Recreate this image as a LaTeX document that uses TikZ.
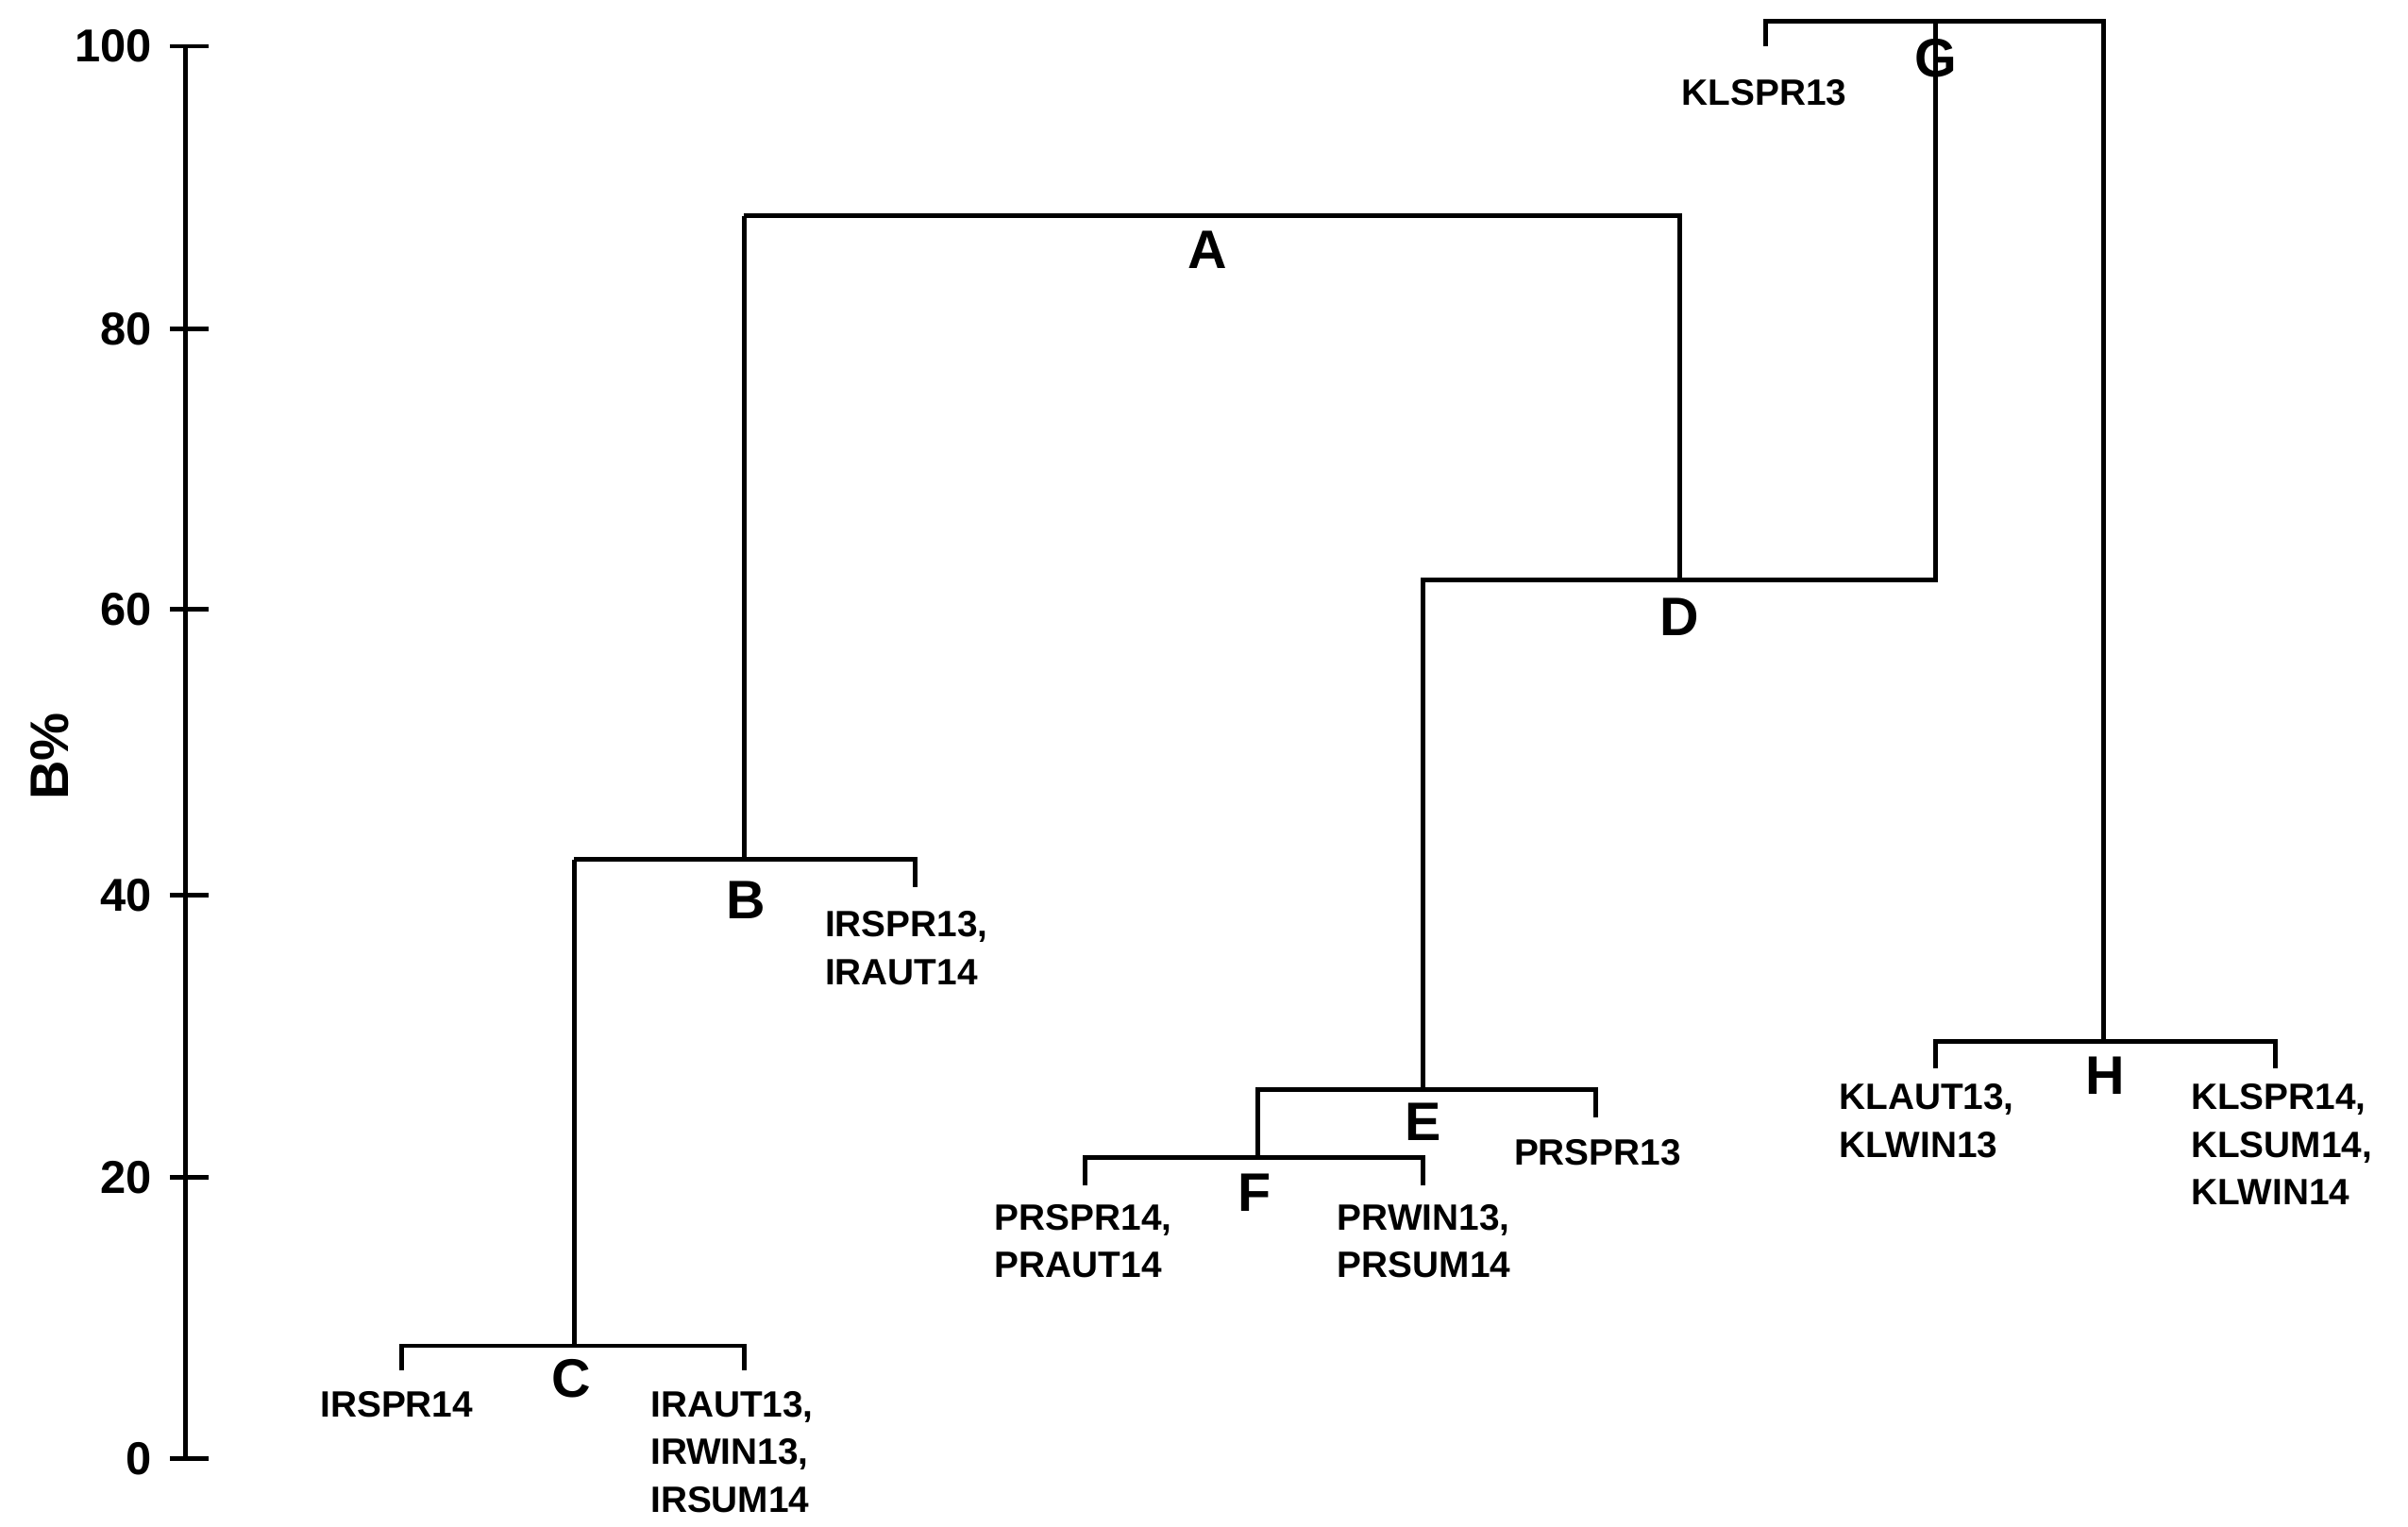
\documentclass[tikz,border=0pt]{standalone}
\usepackage{fontspec}
\setmainfont{Liberation Sans}
\begin{document}
\begin{tikzpicture}[x=0.02cm,y=-0.02cm,line width=1.7pt,
 lab/.style={font=\bfseries\fontsize{13.5}{17.6}\selectfont,align=left,inner sep=0pt},
 big/.style={font=\bfseries\fontsize{20}{24}\selectfont,inner sep=0pt},
 num/.style={font=\bfseries\fontsize{17}{20}\selectfont,anchor=east,inner sep=0pt}]
\useasboundingbox (0,0) rectangle (1560,989);
% axis
\draw (120,30) -- (120,945);
\foreach \v/\y in {100/30,80/213,60/395,40/580,20/763,0/945}{
 \draw (110,\y) -- (135,\y);
 \node[num] at (100,\y) {\v};}
\node[big,rotate=90] (ylab) at (32,490) {B\%};
% C
\draw (260,888) -- (260,872) -- (482,872) -- (482,888);
\draw (372,872) -- (372,557);
% B
\draw (372,557) -- (593,557) -- (593,575);
\draw (482,557) -- (482,140);
% A
\draw (482,140) -- (1088,140) -- (1088,376);
% D
\draw (922,706) -- (922,376) -- (1254,376) -- (1254,14);
% E
\draw (815,750) -- (815,706) -- (1034,706) -- (1034,724);
% F
\draw (703,768) -- (703,750) -- (922,750) -- (922,768);
% G
\draw (1144,30) -- (1144,14) -- (1363,14) -- (1363,675);
% H
\draw (1254,692) -- (1254,675) -- (1474,675) -- (1474,692);
% letters
\node[big] (A) at (782,162) {A};
\node[big] (B) at (483,583) {B};
\node[big] (C) at (370,893) {C};
\node[big] (D) at (1088,400) {D};
\node[big] (E) at (922,727) {E};
\node[big] (F) at (813,773) {F};
\node[big] (G) at (1254,38) {G};
\node[big] (H) at (1364,697) {H};
% leaf labels
\node[lab] (l1) at (257,910) {IRSPR14};
\node[lab,anchor=north west] (l2) at (420,900) {IRAUT13,\\IRWIN13,\\IRSUM14};
\node[lab,anchor=north west] (l3) at (533,589) {IRSPR13,\\IRAUT14};
\node[lab,anchor=north west] (l4) at (643,779) {PRSPR14,\\PRAUT14};
\node[lab,anchor=north west] (l5) at (865,779) {PRWIN13,\\PRSUM14};
\node[lab] (l6) at (1035,747) {PRSPR13};
\node[lab] (l7) at (1143,60) {KLSPR13};
\node[lab,anchor=north west] (l8) at (1190,701) {KLAUT13,\\KLWIN13};
\node[lab,anchor=north west] (l9) at (1418,701) {KLSPR14,\\KLSUM14,\\KLWIN14};
\end{tikzpicture}
\end{document}
